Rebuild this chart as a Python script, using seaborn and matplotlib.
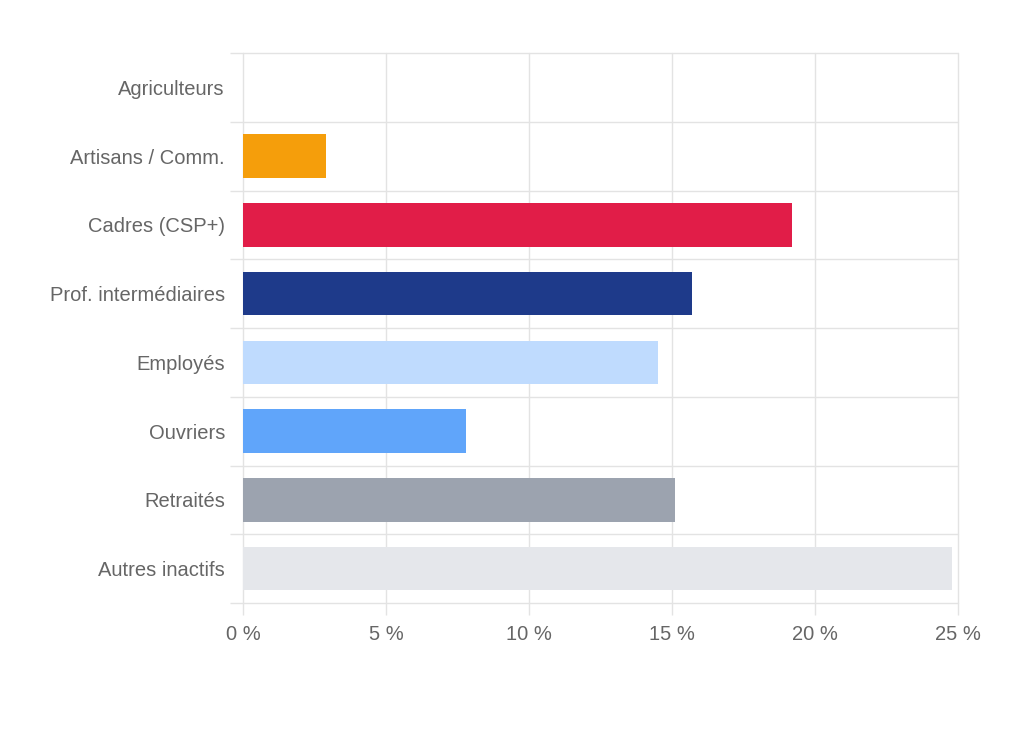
import matplotlib
matplotlib.use("Agg")
import matplotlib.pyplot as plt
import seaborn as sns
import pandas as pd
import numpy as np
from matplotlib.ticker import FixedLocator, FuncFormatter

# --- Daten ---
categories = ["Agriculteurs", "Artisans / Comm.", "Cadres (CSP+)", "Prof. intermédiaires",
              "Employés", "Ouvriers", "Retraités", "Autres inactifs"]
values = [0.0, 2.9, 19.2, 15.7, 14.5, 7.8, 15.1, 24.8]
colors = ["#84CC16", "#F59E0B", "#E11D48", "#1E3A8A", "#BFDBFE", "#60A5FA", "#9CA3AF", "#E5E7EB"]
x_ticks = [0, 5, 10, 15, 20, 25]

df = pd.DataFrame({"cat": categories, "val": values})

sns.set_style("white")
plt.rcParams['font.family'] = ['Liberation Sans', 'DejaVu Sans']

fig = plt.figure(figsize=(10.24, 7.45), dpi=100)
ax = fig.add_axes([243 / 1024, 1 - 603 / 745, 715 / 1024, 550 / 745])

sns.barplot(data=df, x="val", y="cat", hue="cat", palette=colors, legend=False,
            orient="h", width=0.63, ax=ax, saturation=1, linewidth=0)

grid_col = "#E3E3E3"
text_col = "#666666"

ax.set_xlim(0, 25)
ax.set_ylim(len(categories) - 0.5, -0.5)
for s in ax.spines.values():
    s.set_visible(False)

ax.xaxis.set_major_locator(FixedLocator(x_ticks))
ax.xaxis.set_major_formatter(FuncFormatter(lambda v, p: f"{v:.0f} %"))
ax.tick_params(axis="x", which="major", bottom=True, length=8.6, color=grid_col, width=1,
               labelsize=14.5, labelcolor=text_col, pad=7)
ax.grid(axis="x", which="major", color=grid_col, linewidth=1)

ax.yaxis.set_minor_locator(FixedLocator(np.arange(-0.5, len(categories), 1.0)))
ax.tick_params(axis="y", which="minor", left=True, length=9.4, color=grid_col, width=1)
ax.tick_params(axis="y", which="major", length=0, labelsize=14.5, labelcolor=text_col, pad=13)
ax.grid(axis="y", which="minor", color=grid_col, linewidth=1)
ax.grid(axis="y", which="major", visible=False)
ax.set_axisbelow(True)

# Randlinien nicht halb abschneiden
for t in ax.xaxis.get_major_ticks() + ax.yaxis.get_minor_ticks():
    t.gridline.set_clip_on(False)

ax.set_xlabel("")
ax.set_ylabel("")

fig.savefig("out.png", dpi=100)
